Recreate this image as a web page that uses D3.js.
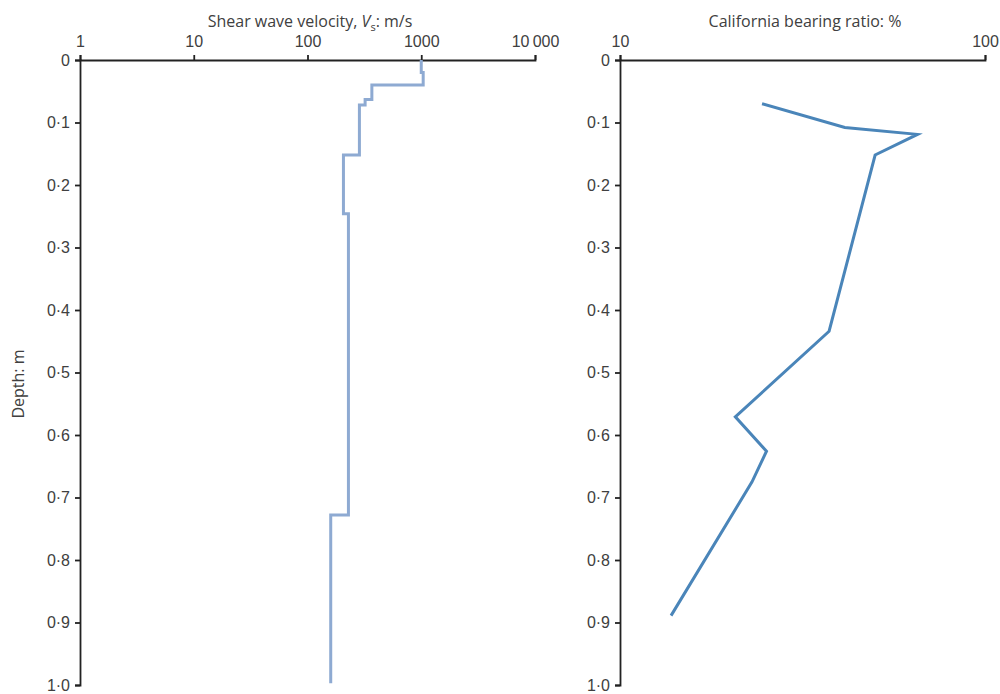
<!DOCTYPE html>
<html>
<head>
<meta charset="utf-8">
<script src="https://cdn.jsdelivr.net/npm/d3@7"></script>
<style>
  body { margin: 0; background: #fff; }
  svg { font-family: "Open Sans", "Noto Sans", sans-serif; }
  .axis text { font-size: 16px; fill: #404040; }
  .axis path, .axis line { stroke: #222; stroke-width: 1.8; }
  .title { font-size: 16px; fill: #404040; }
</style>
</head>
<body>
<svg id="chart" width="1000" height="694"></svg>
<script>
// Shear wave velocity layers (top depth, m / velocity, m/s)
const vsLayerTop = [0, 0.02, 0.04, 0.063, 0.072, 0.152, 0.246, 0.728];
const vsVelocity = [1000, 1040, 368, 321, 286, 207, 229, 160];
const vsBottom = 0.997;

// California bearing ratio profile
const cbrDepth = [0.070, 0.108, 0.119, 0.152, 0.434, 0.571, 0.626, 0.675, 0.889];
const cbrValue = [24.5, 41.3, 65.3, 50.0, 37.4, 20.7, 25.2, 23.0, 13.8];

const depthTicks = [0, 0.1, 0.2, 0.3, 0.4, 0.5, 0.6, 0.7, 0.8, 0.9, 1.0];
const vsTicks = [1, 10, 100, 1000, 10000];
const cbrTicks = [10, 100];

const svg = d3.select("#chart");
const plotTop = 60, plotBottom = 685;

const y = d3.scaleLinear().domain([0, 1]).range([plotTop, plotBottom]);
const xVs = d3.scaleLog().domain([1, 10000]).range([80, 535]);
const xCbr = d3.scaleLog().domain([10, 100]).range([620, 985]);

const depthFmt = d => d === 0 ? "0" : d.toFixed(1).replace(".", "\u00b7");
const vsFmt = d => d === 10000 ? "10\u2009000" : String(d);

function drawAxes(x, ticks, fmt) {
  svg.append("g")
    .attr("class", "axis")
    .attr("transform", `translate(0,${plotTop})`)
    .call(d3.axisTop(x).tickValues(ticks).tickFormat(fmt).tickSize(5).tickPadding(6))
    .call(g => g.selectAll("text").attr("dy", "-0.1em"));

  svg.append("g")
    .attr("class", "axis")
    .attr("transform", `translate(${x.range()[0]},0)`)
    .call(d3.axisLeft(y).tickValues(depthTicks).tickFormat(depthFmt).tickSize(5).tickPadding(5));
}

drawAxes(xVs, vsTicks, vsFmt);
drawAxes(xCbr, cbrTicks, d3.format("d"));

// titles
const t1 = svg.append("text").attr("class", "title")
  .attr("x", 310).attr("y", 27).attr("text-anchor", "middle");
t1.append("tspan").text("Shear wave velocity, ");
t1.append("tspan").attr("font-style", "italic").text("V");
t1.append("tspan").attr("font-size", "11px").attr("dy", 4).text("s");
t1.append("tspan").attr("dy", -4).text(": m/s");

svg.append("text").attr("class", "title")
  .attr("x", 805).attr("y", 27).attr("text-anchor", "middle")
  .text("California bearing ratio: %");

svg.append("text").attr("class", "title")
  .attr("transform", "translate(24,384) rotate(-90)")
  .attr("text-anchor", "middle")
  .text("Depth: m");

// shear wave velocity step profile
const vsPoints = [];
vsVelocity.forEach((v, i) => {
  const d0 = vsLayerTop[i];
  const d1 = i < vsLayerTop.length - 1 ? vsLayerTop[i + 1] : vsBottom;
  vsPoints.push([v, d0], [v, d1]);
});

svg.append("path")
  .datum(vsPoints)
  .attr("fill", "none")
  .attr("stroke", "#8eaad2")
  .attr("stroke-width", 3)
  .attr("d", d3.line().x(d => xVs(d[0])).y(d => y(d[1])));

// CBR profile
const cbrPoints = cbrValue.map((v, i) => [v, cbrDepth[i]]);

svg.append("path")
  .datum(cbrPoints)
  .attr("fill", "none")
  .attr("stroke", "#4a85b9")
  .attr("stroke-width", 3)
  .attr("d", d3.line().x(d => xCbr(d[0])).y(d => y(d[1])));
</script>
</body>
</html>
